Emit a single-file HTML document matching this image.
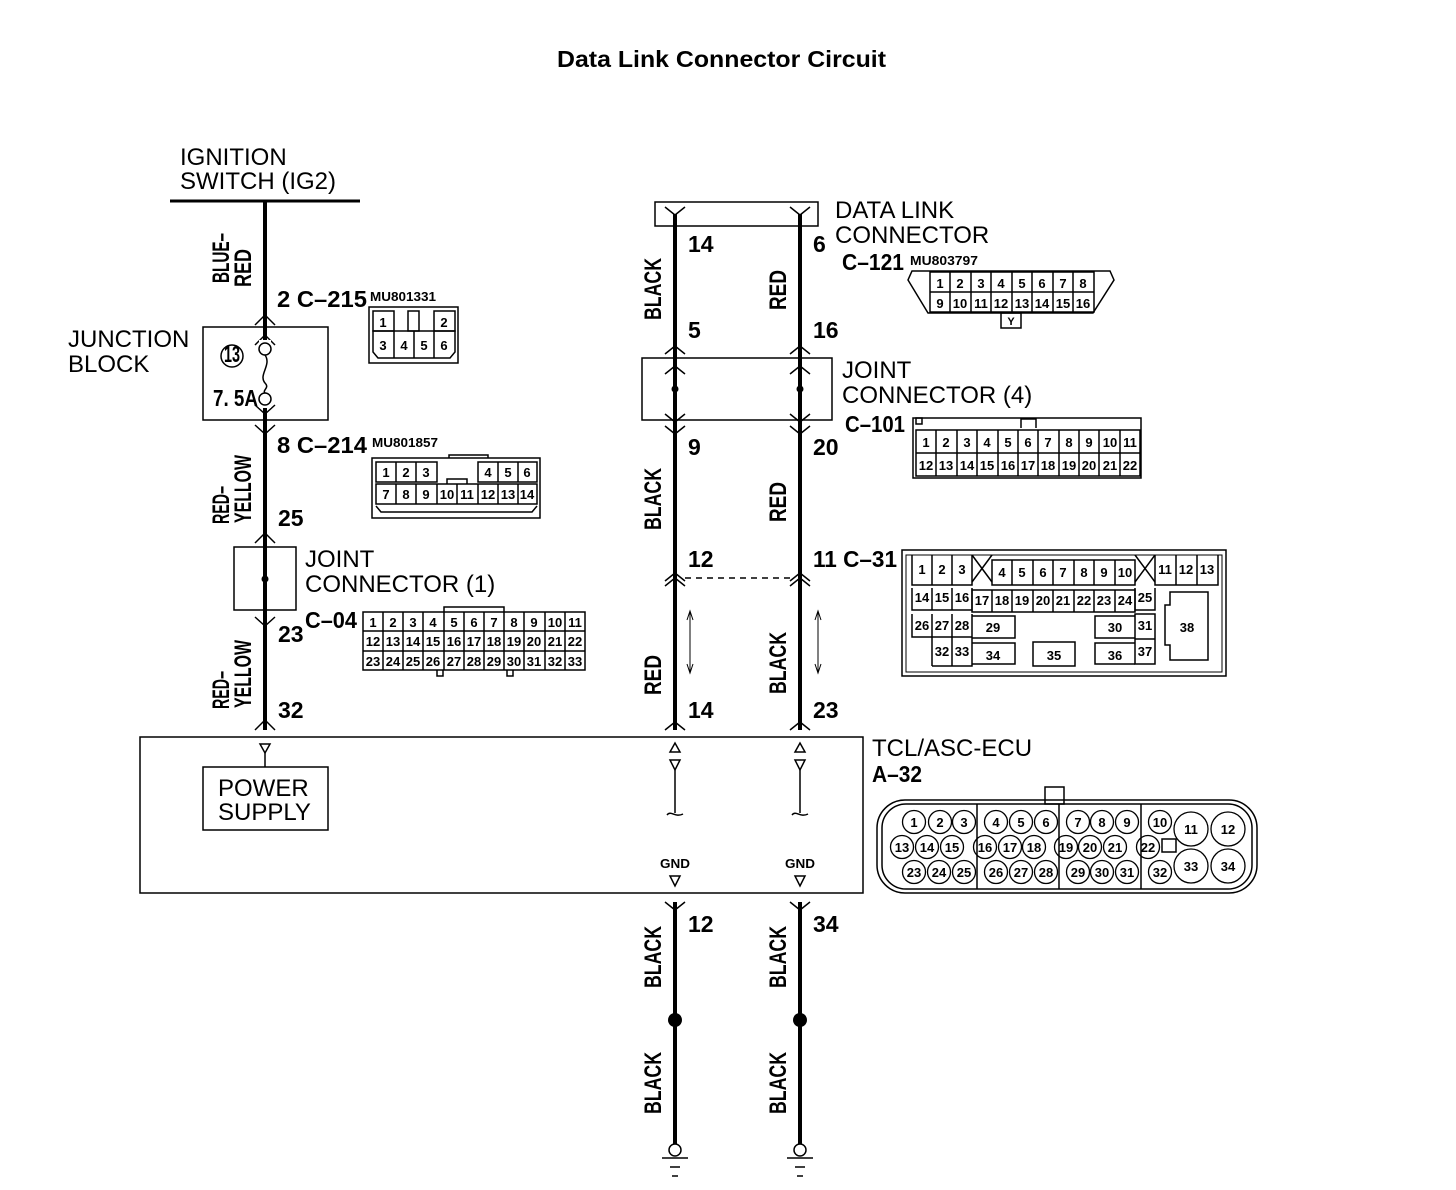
<!DOCTYPE html>
<html><head><meta charset="utf-8"><style>
body{margin:0;background:#fff}
svg{display:block}
.t{font-family:"Liberation Sans",sans-serif;font-size:24px;fill:#000}
.b{font-family:"Liberation Sans Narrow","Liberation Sans",sans-serif;font-weight:bold;font-size:23px;fill:#000}
.s{font-family:"Liberation Sans Narrow","Liberation Sans",sans-serif;font-weight:bold;font-size:13px;fill:#000}
.g{font-family:"Liberation Sans Narrow","Liberation Sans",sans-serif;font-weight:bold;font-size:13px;fill:#000;text-anchor:middle}
.r{font-family:"Liberation Sans Narrow","Liberation Sans",sans-serif;font-weight:bold;font-size:24px;fill:#000;text-anchor:middle}
</style></head><body>
<svg width="1456" height="1190" viewBox="0 0 1456 1190" xmlns="http://www.w3.org/2000/svg">
<text x="557" y="67" textLength="329" lengthAdjust="spacingAndGlyphs" style="font-family:'Liberation Sans',sans-serif;font-weight:bold;font-size:23px">Data Link Connector Circuit</text>

<g stroke="#000" fill="none" stroke-width="1.5">
<line x1="170" y1="201" x2="360" y2="201" stroke-width="3"/>
<line x1="265" y1="201" x2="265" y2="730" stroke-width="4"/>
<rect x="203" y="327" width="125" height="93"/>
<rect x="234" y="547" width="62" height="63"/>
<polyline points="255,325 265,315 275,325"/>
<polyline points="255,345 265,335 275,345"/>
<polyline points="255,405 265,414 275,405"/>
<polyline points="255,425 265,434 275,425"/>
<polyline points="255,543 265,533 275,543"/>
<polyline points="255,617 265,626 275,617"/>
<polyline points="255,730 265,720 275,730"/>
</g>
<rect x="259" y="340" width="12" height="68" fill="#fff"/>
<g stroke="#000" fill="#fff" stroke-width="1.5">
<circle cx="265" cy="349" r="6"/><circle cx="265" cy="399" r="6"/>
<path d="M265,355 C272,365 258,375 265,383 C270,388 262,390 265,393" fill="none"/>
<circle cx="232" cy="356" r="11" fill="none"/>
</g>
<circle cx="265" cy="579" r="3.5"/>
<text x="232" y="362" class="b" text-anchor="middle" font-size="16" textLength="16" lengthAdjust="spacingAndGlyphs">13</text>
<text x="213" y="406" class="b" font-size="20" textLength="45" lengthAdjust="spacingAndGlyphs">7. 5A</text>
<text x="180" y="165" class="t">IGNITION</text>
<text x="180" y="189" class="t">SWITCH (IG2)</text>
<text x="68" y="347" class="t">JUNCTION</text>
<text x="68" y="372" class="t">BLOCK</text>
<text x="305" y="567" class="t">JOINT</text>
<text x="305" y="592" class="t">CONNECTOR (1)</text>
<text x="277" y="307" class="b" textLength="90" lengthAdjust="spacingAndGlyphs">2  C–215</text>
<text x="370" y="301" class="s" textLength="66" lengthAdjust="spacingAndGlyphs">MU801331</text>
<text x="277" y="453" class="b" textLength="90" lengthAdjust="spacingAndGlyphs">8  C–214</text>
<text x="372" y="447" class="s" textLength="66" lengthAdjust="spacingAndGlyphs">MU801857</text>
<text x="278" y="526" class="b">25</text>
<text x="278" y="642" class="b">23</text>
<text x="305" y="628" class="b" textLength="52" lengthAdjust="spacingAndGlyphs">C–04</text>
<text x="278" y="718" class="b">32</text>
<text transform="translate(229,258) rotate(-90)" class="r" textLength="50" lengthAdjust="spacingAndGlyphs">BLUE–</text>
<text transform="translate(251,268) rotate(-90)" class="r" textLength="38" lengthAdjust="spacingAndGlyphs">RED</text>
<text transform="translate(229,505) rotate(-90)" class="r" textLength="38" lengthAdjust="spacingAndGlyphs">RED–</text>
<text transform="translate(251,489) rotate(-90)" class="r" textLength="68" lengthAdjust="spacingAndGlyphs">YELLOW</text>
<text transform="translate(229,690) rotate(-90)" class="r" textLength="38" lengthAdjust="spacingAndGlyphs">RED–</text>
<text transform="translate(251,674) rotate(-90)" class="r" textLength="68" lengthAdjust="spacingAndGlyphs">YELLOW</text>

<g stroke="#000" fill="none" stroke-width="1.5">
<path d="M369,307 H458 V363 H369 Z"/>
<path d="M373,311 H394 V331 H373 Z M408,311 H419 V331 H408 Z M434,311 H455 V331 H434 Z"/>
<path d="M373,331 H455 V352 L450,358 H378 L373,352 Z M394,331 V358 M414,331 V358 M434,331 V358"/>
</g>
<text x="383" y="327" class="g">1</text><text x="444" y="327" class="g">2</text>
<text x="383" y="350" class="g">3</text><text x="404" y="350" class="g">4</text><text x="424" y="350" class="g">5</text><text x="444" y="350" class="g">6</text>

<g stroke="#000" fill="none" stroke-width="1.5">
<rect x="372" y="458" width="168" height="60"/>
<path d="M449,458 V455 H488 V458"/>
<path d="M376,462 H437 V482 H376 Z M396,462 V482 M416,462 V482"/>
<path d="M478,462 H537 V482 H478 Z M498,462 V482 M518,462 V482"/>
<path d="M376,484 H537 V504 H376 Z M396,484 V504 M416,484 V504 M437,484 V504 M457,484 V504 M478,484 V504 M498,484 V504 M518,484 V504"/>
<path d="M447,484 V479 H467 V484"/>
<path d="M376,506 L381,512 H532 L537,506"/>
</g>
<g class="g">
<text x="386" y="477">1</text><text x="406" y="477">2</text><text x="426" y="477">3</text>
<text x="488" y="477">4</text><text x="508" y="477">5</text><text x="527" y="477">6</text>
<text x="386" y="499">7</text><text x="406" y="499">8</text><text x="426" y="499">9</text><text x="447" y="499">10</text><text x="467" y="499">11</text><text x="488" y="499">12</text><text x="508" y="499">13</text><text x="527" y="499">14</text>
</g>

<g stroke="#000" fill="none" stroke-width="1.5">
<rect x="363" y="612" width="222" height="58"/>
<path d="M363,631 H585 M363,651 H585"/>
<path d="M383,612 V670 M403,612 V670 M423,612 V670 M444,612 V670 M464,612 V670 M484,612 V670 M504,612 V670 M524,612 V670 M545,612 V670 M565,612 V670"/>
<path d="M444,612 V607 H504 V612"/>
<path d="M437,670 V676 H443 V670 M507,670 V676 H513 V670"/>
</g>
<g class="g" font-size="12">
<text x="373" y="627">1</text><text x="393" y="627">2</text><text x="413" y="627">3</text><text x="433" y="627">4</text><text x="454" y="627">5</text><text x="474" y="627">6</text><text x="494" y="627">7</text><text x="514" y="627">8</text><text x="534" y="627">9</text><text x="555" y="627">10</text><text x="575" y="627">11</text>
<text x="373" y="646">12</text><text x="393" y="646">13</text><text x="413" y="646">14</text><text x="433" y="646">15</text><text x="454" y="646">16</text><text x="474" y="646">17</text><text x="494" y="646">18</text><text x="514" y="646">19</text><text x="534" y="646">20</text><text x="555" y="646">21</text><text x="575" y="646">22</text>
<text x="373" y="666">23</text><text x="393" y="666">24</text><text x="413" y="666">25</text><text x="433" y="666">26</text><text x="454" y="666">27</text><text x="474" y="666">28</text><text x="494" y="666">29</text><text x="514" y="666">30</text><text x="534" y="666">31</text><text x="555" y="666">32</text><text x="575" y="666">33</text>
</g>

<g stroke="#000" fill="none" stroke-width="1.5">
<rect x="655" y="202" width="163" height="24"/>
<line x1="675" y1="214" x2="675" y2="730" stroke-width="4"/>
<line x1="800" y1="214" x2="800" y2="730" stroke-width="4"/>
<rect x="642" y="358" width="190" height="62" fill="none"/>
<polyline points="665,207 675,215 685,207"/><polyline points="790,207 800,215 810,207"/>
<polyline points="665,354 675,346 685,354"/><polyline points="790,354 800,346 810,354"/>
<polyline points="665,374 675,366 685,374"/><polyline points="790,374 800,366 810,374"/>
<polyline points="665,414 675,422 685,414"/><polyline points="790,414 800,422 810,414"/>
<polyline points="665,426 675,434 685,426"/><polyline points="790,426 800,434 810,426"/>
<polyline points="665,581 675,573 685,581"/><polyline points="790,581 800,573 810,581"/>
<polyline points="665,586 675,578 685,586"/><polyline points="790,586 800,578 810,586"/>
<line x1="685" y1="578" x2="790" y2="578" stroke-dasharray="6,5"/>
<line x1="690" y1="612" x2="690" y2="672" stroke-width="1"/><polyline points="687,620 690,611 693,620" stroke-width="1"/><polyline points="687,664 690,673 693,664" stroke-width="1"/>
<line x1="818" y1="612" x2="818" y2="672" stroke-width="1"/><polyline points="815,620 818,611 821,620" stroke-width="1"/><polyline points="815,664 818,673 821,664" stroke-width="1"/>
<polyline points="665,730 675,722 685,730"/><polyline points="790,730 800,722 810,730"/>
<rect x="140" y="737" width="723" height="156"/>
<rect x="203" y="767" width="125" height="63"/>
<polygon points="260,744 270,744 265,753"/><line x1="265" y1="753" x2="265" y2="767"/>
<polygon points="670,752 680,752 675,743"/><polygon points="670,760 680,760 675,770"/>
<line x1="675" y1="770" x2="675" y2="813"/><path d="M667,815 C671,810 675,818 683,814"/>
<polygon points="795,752 805,752 800,743"/><polygon points="795,760 805,760 800,770"/>
<line x1="800" y1="770" x2="800" y2="813"/><path d="M792,815 C796,810 800,818 808,814"/>
<polygon points="670,876 680,876 675,886"/><polygon points="795,876 805,876 800,886"/>
<line x1="675" y1="902" x2="675" y2="1144" stroke-width="4"/>
<line x1="800" y1="902" x2="800" y2="1144" stroke-width="4"/>
<polyline points="665,902 675,910 685,902"/><polyline points="790,902 800,910 810,902"/>
<circle cx="675" cy="1150" r="6" fill="#fff"/><circle cx="800" cy="1150" r="6" fill="#fff"/>
<path d="M662,1158 H688 M670,1167 H680 M672,1176 H678"/>
<path d="M787,1158 H813 M795,1167 H805 M797,1176 H803"/>
</g>
<circle cx="675" cy="389" r="3.5"/><circle cx="800" cy="389" r="3.5"/>
<circle cx="675" cy="1020" r="7"/><circle cx="800" cy="1020" r="7"/>
<text x="218" y="796" class="t" font-size="23">POWER</text>
<text x="218" y="820" class="t" font-size="23">SUPPLY</text>
<text x="675" y="868" class="g" font-size="16" textLength="30" lengthAdjust="spacingAndGlyphs">GND</text>
<text x="800" y="868" class="g" font-size="16" textLength="30" lengthAdjust="spacingAndGlyphs">GND</text>

<text x="688" y="252" class="b">14</text><text x="813" y="252" class="b">6</text>
<text x="688" y="338" class="b">5</text><text x="813" y="338" class="b">16</text>
<text x="688" y="455" class="b">9</text><text x="813" y="455" class="b">20</text>
<text x="688" y="567" class="b">12</text><text x="813" y="567" class="b" textLength="84" lengthAdjust="spacingAndGlyphs">11  C–31</text>
<text x="688" y="718" class="b">14</text><text x="813" y="718" class="b">23</text>
<text x="688" y="932" class="b">12</text><text x="813" y="932" class="b">34</text>
<g class="r">
<text transform="translate(661,289) rotate(-90)" textLength="62" lengthAdjust="spacingAndGlyphs">BLACK</text>
<text transform="translate(786,290) rotate(-90)" textLength="40" lengthAdjust="spacingAndGlyphs">RED</text>
<text transform="translate(661,499) rotate(-90)" textLength="62" lengthAdjust="spacingAndGlyphs">BLACK</text>
<text transform="translate(786,502) rotate(-90)" textLength="40" lengthAdjust="spacingAndGlyphs">RED</text>
<text transform="translate(661,675) rotate(-90)" textLength="40" lengthAdjust="spacingAndGlyphs">RED</text>
<text transform="translate(786,663) rotate(-90)" textLength="62" lengthAdjust="spacingAndGlyphs">BLACK</text>
<text transform="translate(661,957) rotate(-90)" textLength="62" lengthAdjust="spacingAndGlyphs">BLACK</text>
<text transform="translate(786,957) rotate(-90)" textLength="62" lengthAdjust="spacingAndGlyphs">BLACK</text>
<text transform="translate(661,1083) rotate(-90)" textLength="62" lengthAdjust="spacingAndGlyphs">BLACK</text>
<text transform="translate(786,1083) rotate(-90)" textLength="62" lengthAdjust="spacingAndGlyphs">BLACK</text>
</g>

<text x="835" y="218" class="t">DATA LINK</text>
<text x="835" y="243" class="t">CONNECTOR</text>
<text x="842" y="270" class="b" textLength="62" lengthAdjust="spacingAndGlyphs">C–121</text>
<text x="910" y="265" class="s" textLength="68" lengthAdjust="spacingAndGlyphs">MU803797</text>
<text x="842" y="378" class="t">JOINT</text>
<text x="842" y="403" class="t">CONNECTOR (4)</text>
<text x="845" y="432" class="b" textLength="60" lengthAdjust="spacingAndGlyphs">C–101</text>
<text x="872" y="756" class="t" font-size="23">TCL/ASC-ECU</text>
<text x="872" y="782" class="b" textLength="50" lengthAdjust="spacingAndGlyphs">A–32</text>

<g stroke="#000" fill="none" stroke-width="1.5">
<path d="M912,271 H1110 L1114,280 L1093,313 H928 L908,280 Z"/>
<path d="M930,272 H1094 V312 H930 Z M930,292 H1094"/>
<path d="M950,272 V312 M971,272 V312 M991,272 V312 M1012,272 V312 M1032,272 V312 M1053,272 V312 M1073,272 V312"/>
<rect x="1001" y="313" width="20" height="15"/>
</g>
<g class="g">
<text x="940" y="288">1</text><text x="960" y="288">2</text><text x="981" y="288">3</text><text x="1001" y="288">4</text><text x="1022" y="288">5</text><text x="1042" y="288">6</text><text x="1063" y="288">7</text><text x="1083" y="288">8</text>
<text x="940" y="308">9</text><text x="960" y="308">10</text><text x="981" y="308">11</text><text x="1001" y="308">12</text><text x="1022" y="308">13</text><text x="1042" y="308">14</text><text x="1063" y="308">15</text><text x="1083" y="308">16</text>
<text x="1011" y="325" font-size="11">Y</text>
</g>

<g stroke="#000" fill="none" stroke-width="1.5">
<rect x="913" y="418" width="228" height="60"/>
<rect x="916" y="418" width="6" height="6"/>
<path d="M1021,428 V419 H1036 V428"/>
<path d="M916,430 H1140 V476 H916 Z M916,453 H1140"/>
<path d="M936,430 V476 M957,430 V476 M977,430 V476 M998,430 V476 M1018,430 V476 M1038,430 V476 M1059,430 V476 M1079,430 V476 M1099,430 V476 M1120,430 V476"/>
</g>
<g class="g">
<text x="926" y="447">1</text><text x="946" y="447">2</text><text x="967" y="447">3</text><text x="987" y="447">4</text><text x="1008" y="447">5</text><text x="1028" y="447">6</text><text x="1048" y="447">7</text><text x="1069" y="447">8</text><text x="1089" y="447">9</text><text x="1110" y="447">10</text><text x="1130" y="447">11</text>
<text x="926" y="470">12</text><text x="946" y="470">13</text><text x="967" y="470">14</text><text x="987" y="470">15</text><text x="1008" y="470">16</text><text x="1028" y="470">17</text><text x="1048" y="470">18</text><text x="1069" y="470">19</text><text x="1089" y="470">20</text><text x="1110" y="470">21</text><text x="1130" y="470">22</text>
</g>

<g stroke="#000" fill="none" stroke-width="1.5">
<rect x="902" y="550" width="324" height="126"/>
<path d="M906,555 H1222 V672 H906 Z" stroke-width="1"/>
<path d="M912,555 V585 H972 V555 M932,555 V585 M952,555 V585"/>
<path d="M972,555 L992,582 M992,555 L972,582"/>
<path d="M992,560 H1135 V585 H992 Z M1012,560 V585 M1033,560 V585 M1053,560 V585 M1074,560 V585 M1094,560 V585 M1115,560 V585"/>
<path d="M1135,555 L1155,582 M1155,555 L1135,582"/>
<path d="M1155,555 V585 H1218 V555 M1176,555 V585 M1197,555 V585"/>
<path d="M912,588 V610 H972 V588 M932,588 V610 M952,610 V588"/>
<path d="M972,590 H1135 V612 H972 Z M992,590 V612 M1012,590 V612 M1033,590 V612 M1053,590 V612 M1074,590 V612 M1094,590 V612 M1115,590 V612"/>
<path d="M1135,588 V610 H1155 V588"/>
<path d="M912,614 V637 H972 V614 M932,614 V666 M952,614 V666 M932,666 H972 V614"/>
<path d="M972,616 H1015 V638 H972 M972,643 H1015 V664 H972"/>
<rect x="1033" y="642" width="42" height="24"/>
<path d="M1135,616 H1095 V638 H1135 M1135,643 H1095 V664 H1135"/>
<path d="M1135,614 V664 H1155 V614 Z M1135,639 H1155"/>
<path d="M1170,592 H1208 V660 H1170 V645 H1165 V605 H1170 Z"/>
</g>
<g class="g">
<text x="922" y="574">1</text><text x="942" y="574">2</text><text x="962" y="574">3</text>
<text x="1002" y="577">4</text><text x="1022" y="577">5</text><text x="1043" y="577">6</text><text x="1063" y="577">7</text><text x="1084" y="577">8</text><text x="1104" y="577">9</text><text x="1125" y="577">10</text>
<text x="1165" y="574">11</text><text x="1186" y="574">12</text><text x="1207" y="574">13</text>
<text x="922" y="602">14</text><text x="942" y="602">15</text><text x="962" y="602">16</text>
<text x="982" y="605">17</text><text x="1002" y="605">18</text><text x="1022" y="605">19</text><text x="1043" y="605">20</text><text x="1063" y="605">21</text><text x="1084" y="605">22</text><text x="1104" y="605">23</text><text x="1125" y="605">24</text><text x="1145" y="602">25</text>
<text x="922" y="630">26</text><text x="942" y="630">27</text><text x="962" y="630">28</text><text x="993" y="632">29</text><text x="1115" y="632">30</text><text x="1145" y="630">31</text>
<text x="942" y="656">32</text><text x="962" y="656">33</text><text x="993" y="660">34</text><text x="1054" y="660">35</text><text x="1115" y="660">36</text><text x="1145" y="656">37</text>
<text x="1187" y="632">38</text>
</g>

<g stroke="#000" fill="none" stroke-width="1.5">
<rect x="877" y="800" width="380" height="93" rx="28"/>
<rect x="882" y="804" width="370" height="85" rx="24"/>
<rect x="1045" y="787" width="19" height="17"/>
<path d="M977,804 V889 M1059,804 V889 M1141,804 V889"/>
<rect x="1162" y="839" width="14" height="13"/>
<g stroke-width="1.3">
<circle cx="914" cy="822" r="11.5"/><circle cx="940" cy="822" r="11.5"/><circle cx="964" cy="822" r="11.5"/>
<circle cx="996" cy="822" r="11.5"/><circle cx="1021" cy="822" r="11.5"/><circle cx="1046" cy="822" r="11.5"/>
<circle cx="1078" cy="822" r="11.5"/><circle cx="1102" cy="822" r="11.5"/><circle cx="1127" cy="822" r="11.5"/>
<circle cx="1160" cy="822" r="11.5"/>
<circle cx="902" cy="847" r="11.5"/><circle cx="927" cy="847" r="11.5"/><circle cx="952" cy="847" r="11.5"/>
<circle cx="985" cy="847" r="11.5"/><circle cx="1010" cy="847" r="11.5"/><circle cx="1034" cy="847" r="11.5"/>
<circle cx="1066" cy="847" r="11.5"/><circle cx="1090" cy="847" r="11.5"/><circle cx="1115" cy="847" r="11.5"/>
<circle cx="1148" cy="847" r="11.5"/>
<circle cx="914" cy="872" r="11.5"/><circle cx="939" cy="872" r="11.5"/><circle cx="964" cy="872" r="11.5"/>
<circle cx="996" cy="872" r="11.5"/><circle cx="1021" cy="872" r="11.5"/><circle cx="1046" cy="872" r="11.5"/>
<circle cx="1078" cy="872" r="11.5"/><circle cx="1102" cy="872" r="11.5"/><circle cx="1127" cy="872" r="11.5"/>
<circle cx="1160" cy="872" r="11.5"/>
<circle cx="1191" cy="829" r="17" fill="#fff"/><circle cx="1228" cy="829" r="17"/>
<circle cx="1191" cy="866" r="17" fill="#fff"/><circle cx="1228" cy="866" r="17"/>
</g>
</g>
<g class="g">
<text x="914" y="827">1</text><text x="940" y="827">2</text><text x="964" y="827">3</text><text x="996" y="827">4</text><text x="1021" y="827">5</text><text x="1046" y="827">6</text><text x="1078" y="827">7</text><text x="1102" y="827">8</text><text x="1127" y="827">9</text><text x="1160" y="827">10</text>
<text x="902" y="852">13</text><text x="927" y="852">14</text><text x="952" y="852">15</text><text x="985" y="852">16</text><text x="1010" y="852">17</text><text x="1034" y="852">18</text><text x="1066" y="852">19</text><text x="1090" y="852">20</text><text x="1115" y="852">21</text><text x="1148" y="852">22</text>
<text x="914" y="877">23</text><text x="939" y="877">24</text><text x="964" y="877">25</text><text x="996" y="877">26</text><text x="1021" y="877">27</text><text x="1046" y="877">28</text><text x="1078" y="877">29</text><text x="1102" y="877">30</text><text x="1127" y="877">31</text><text x="1160" y="877">32</text>
<text x="1191" y="834">11</text><text x="1228" y="834">12</text><text x="1191" y="871">33</text><text x="1228" y="871">34</text>
</g>
</svg>
</body></html>
